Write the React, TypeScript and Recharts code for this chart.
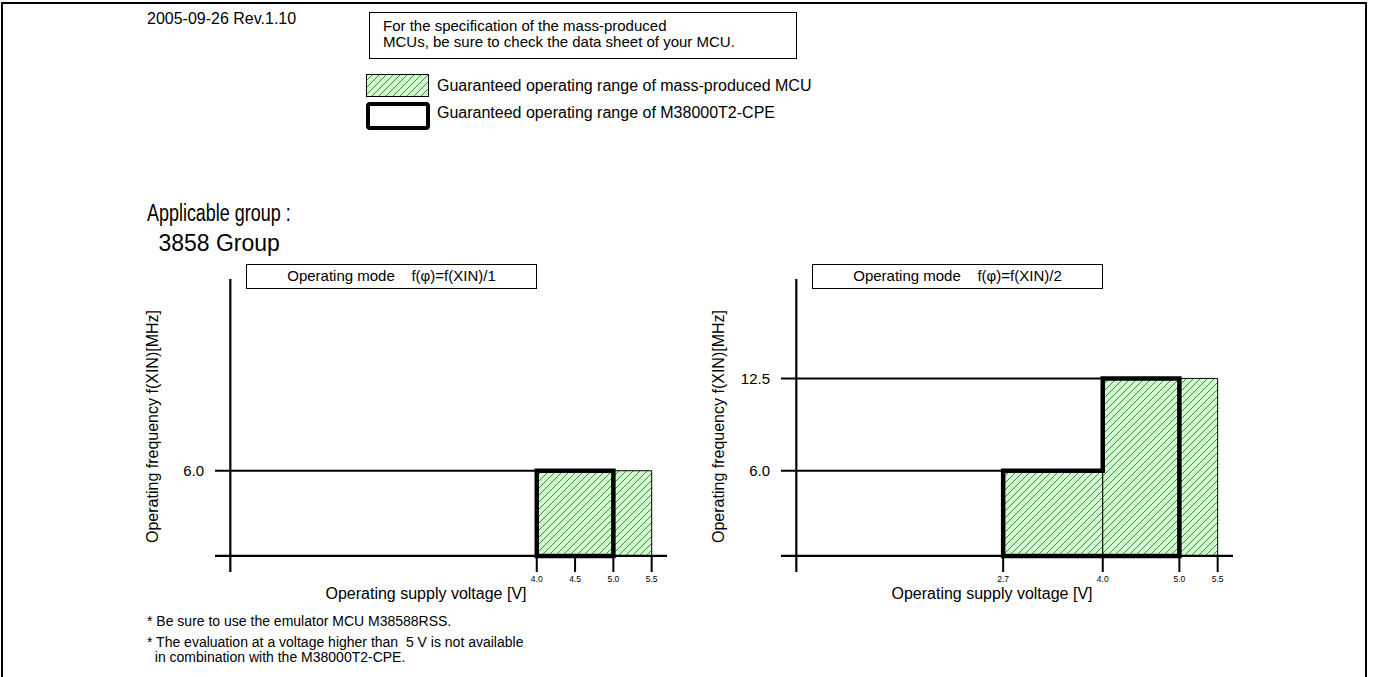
import React from 'react';
import {
  ComposedChart,
  XAxis,
  YAxis,
  Line,
  ReferenceArea,
  ReferenceLine,
} from 'recharts';

const FONT = '"Liberation Sans", Arial, Helvetica, sans-serif';

// f(phi) = f(XIN)/1
const massRangesDiv1 = [{ from: 4.0, to: 5.5, freq: 6.0 }];
const cpeRangesDiv1 = [{ from: 4.0, to: 5.0, freq: 6.0 }];
const voltTicksDiv1 = [4.0, 4.5, 5.0, 5.5];
const freqTicksDiv1 = [6.0];

// f(phi) = f(XIN)/2
const massRangesDiv2 = [
  { from: 2.7, to: 4.0, freq: 6.0 },
  { from: 4.0, to: 5.5, freq: 12.5 },
];
const cpeRangesDiv2 = [
  { from: 2.7, to: 4.0, freq: 6.0 },
  { from: 4.0, to: 5.0, freq: 12.5 },
];
const voltTicksDiv2 = [2.7, 4.0, 5.0, 5.5];
const freqTicksDiv2 = [6.0, 12.5];

const noteLines = [
  'For the specification of the mass-produced',
  'MCUs, be sure to check the data sheet of your MCU.',
];
const footnotes = [
  '* Be sure to use the emulator MCU M38588RSS.',
  '* The evaluation at a voltage higher than  5 V is not available',
  '  in combination with the M38000T2-CPE.',
];

// axis extents (the axes cross a little past the origin)
const X_DOMAIN: [number, number] = [-0.2, 5.7];
const Y_DOMAIN: [number, number] = [-1.13, 19.5];

type Range = { from: number; to: number; freq: number };

// closed step outline of the CPE range, starting/ending on the baseline
const outlineOf = (steps: Range[]) => {
  const pts = [{ v: steps[0].from, f: 0 }];
  steps.forEach((s) => {
    pts.push({ v: s.from, f: s.freq });
    pts.push({ v: s.to, f: s.freq });
  });
  pts.push({ v: steps[steps.length - 1].to, f: 0 });
  pts.push({ v: steps[0].from, f: 0 });
  return pts;
};

// where the level line at a given tick meets the shaded range
const levelEnd = (mass: Range[], f: number) =>
  Math.min(...mass.filter((m) => m.freq >= f).map((m) => m.from));

const Hatch = () => (
  <svg width={0} height={0} style={{ position: 'absolute' }}>
    <defs>
      <pattern id="massHatch" patternUnits="userSpaceOnUse" width={7} height={7}>
        <rect width={7} height={7} fill="#ccffcc" />
        <path d="M-1,1 l2,-2 M0,7 l7,-7 M6,8 l2,-2" stroke="#333" strokeWidth={0.7} />
      </pattern>
    </defs>
  </svg>
);

type PanelProps = {
  left: number;
  top: number;
  mass: Range[];
  cpe: Range[];
  voltTicks: number[];
  freqTicks: number[];
};

const Panel = ({ left, top, mass, cpe, voltTicks, freqTicks }: PanelProps) => {
  const outline = outlineOf(cpe);
  return (
    <div style={{ position: 'absolute', left, top }}>
      <ComposedChart
        width={560}
        height={370}
        margin={{ top: 19, right: 23, bottom: 18, left: 0 }}
      >
        <XAxis
          type="number"
          dataKey="v"
          domain={X_DOMAIN}
          allowDataOverflow
          ticks={voltTicks}
          interval={0}
          tickFormatter={(v: number) => v.toFixed(1)}
          axisLine={false}
          tickLine={false}
          tickSize={0}
          tickMargin={4}
          height={40}
          tick={{ fontSize: 8.5, fill: '#000', fontFamily: FONT }}
          label={(p: any) => (
            <text
              x={p.viewBox.x + 211}
              y={p.viewBox.y + 27}
              textAnchor="middle"
              fontSize={16}
              fontFamily={FONT}
              fill="#000"
            >
              Operating supply voltage [V]
            </text>
          )}
        />
        <YAxis
          type="number"
          domain={Y_DOMAIN}
          allowDataOverflow
          ticks={freqTicks}
          interval={0}
          tickFormatter={(v: number) => v.toFixed(1)}
          axisLine={false}
          tickLine={false}
          tickSize={0}
          tickMargin={11}
          width={85}
          tick={{ fontSize: 15, fill: '#000', fontFamily: FONT }}
          label={(p: any) => {
            const cx = p.viewBox.x + p.viewBox.width - 63;
            const cy = p.viewBox.y + p.viewBox.height / 2 + 1;
            return (
              <text
                x={cx}
                y={cy}
                transform={`rotate(-90, ${cx}, ${cy})`}
                textAnchor="middle"
                dominantBaseline="central"
                fontSize={16}
                fontFamily={FONT}
                fill="#000"
              >
                Operating frequency f(XIN)[MHz]
              </text>
            );
          }}
        />

        {mass.map((m, i) => (
          <ReferenceArea
            key={`m${i}`}
            x1={m.from}
            x2={m.to}
            y1={0}
            y2={m.freq}
            fill="url(#massHatch)"
            fillOpacity={1}
            stroke="#000"
            strokeWidth={1}
            ifOverflow="visible"
          />
        ))}

        {freqTicks.map((f) => (
          <ReferenceLine
            key={`g${f}`}
            segment={[
              { x: X_DOMAIN[0], y: f },
              { x: levelEnd(mass, f), y: f },
            ]}
            stroke="#000"
            strokeWidth={2}
            ifOverflow="visible"
          />
        ))}

        <ReferenceLine x={0} stroke="#000" strokeWidth={2.2} ifOverflow="visible" />
        <ReferenceLine y={0} stroke="#000" strokeWidth={2.2} ifOverflow="visible" />
        {voltTicks.map((v) => (
          <ReferenceLine
            key={`t${v}`}
            segment={[
              { x: v, y: 0 },
              { x: v, y: Y_DOMAIN[0] },
            ]}
            stroke="#000"
            strokeWidth={2}
            ifOverflow="visible"
          />
        ))}

        <Line
          data={outline}
          dataKey="f"
          type="linear"
          stroke="#000"
          strokeWidth={4.5}
          strokeLinejoin="miter"
          strokeLinecap="square"
          dot={false}
          activeDot={false}
          isAnimationActive={false}
        />
      </ComposedChart>
    </div>
  );
};

const TitleBox = ({ left, text }: { left: number; text: string }) => (
  <div
    style={{
      position: 'absolute',
      left,
      top: 264,
      width: 291,
      height: 25,
      boxSizing: 'border-box',
      border: '1.5px solid #000',
      fontSize: 15,
      lineHeight: '21px',
      textAlign: 'center',
      whiteSpace: 'pre',
      background: '#fff',
    }}
  >
    {text}
  </div>
);

const abs = (left: number, top: number, fontSize: number): React.CSSProperties => ({
  position: 'absolute',
  left,
  top,
  fontSize,
  lineHeight: 1,
  whiteSpace: 'pre',
});

export default function App() {
  return (
    <div
      style={{
        position: 'absolute',
        left: 0,
        top: 0,
        width: 1373,
        height: 677,
        overflow: 'hidden',
        background: '#fff',
        fontFamily: FONT,
        color: '#000',
      }}
    >
      <Hatch />
      <div
        style={{
          position: 'absolute',
          left: 1,
          top: 2,
          width: 1366,
          height: 800,
          boxSizing: 'border-box',
          border: '2px solid #000',
        }}
      />

      <div style={abs(147, 11, 16)}>2005-09-26 Rev.1.10</div>

      <div
        style={{
          position: 'absolute',
          left: 369,
          top: 12,
          width: 428,
          height: 47,
          boxSizing: 'border-box',
          border: '1.5px solid #000',
          padding: '5px 0 0 13px',
          fontSize: 15,
          lineHeight: '16px',
        }}
      >
        {noteLines.map((l) => (
          <div key={l}>{l}</div>
        ))}
      </div>

      <svg style={{ position: 'absolute', left: 366, top: 74 }} width={64} height={24}>
        <rect x={0.5} y={0.5} width={62} height={22} fill="url(#massHatch)" stroke="#000" strokeWidth={1} />
      </svg>
      <div style={abs(437, 78, 16)}>Guaranteed operating range of mass-produced MCU</div>
      <svg style={{ position: 'absolute', left: 366, top: 102 }} width={64} height={28}>
        <rect x={2} y={2} width={60} height={24} rx={2} fill="#fff" stroke="#000" strokeWidth={4} />
      </svg>
      <div style={abs(437, 105, 16)}>Guaranteed operating range of M38000T2-CPE</div>

      <div style={{ ...abs(147, 202, 23), transform: 'scaleX(0.78)', transformOrigin: 'left top' }}>
        Applicable group :
      </div>
      <div style={abs(152, 232, 23)}> 3858 Group</div>

      <Panel
        left={130}
        top={260}
        mass={massRangesDiv1}
        cpe={cpeRangesDiv1}
        voltTicks={voltTicksDiv1}
        freqTicks={freqTicksDiv1}
      />
      <TitleBox left={246} text={'Operating mode    f(\u03c6)=f(XIN)/1'} />

      <Panel
        left={696}
        top={260}
        mass={massRangesDiv2}
        cpe={cpeRangesDiv2}
        voltTicks={voltTicksDiv2}
        freqTicks={freqTicksDiv2}
      />
      <TitleBox left={812} text={'Operating mode    f(\u03c6)=f(XIN)/2'} />

      <div style={abs(147, 614, 14)}>{footnotes[0]}</div>
      <div style={abs(147, 635, 14)}>{footnotes[1]}</div>
      <div style={abs(147, 650, 14)}>{footnotes[2]}</div>
    </div>
  );
}
